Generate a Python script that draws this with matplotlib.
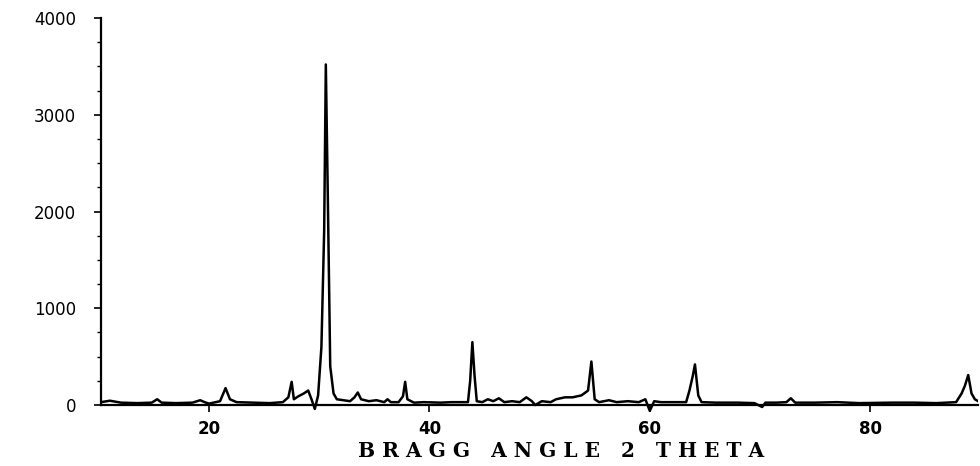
import matplotlib
matplotlib.use("Agg")
import matplotlib.pyplot as plt
from matplotlib.ticker import MultipleLocator

# XRD pattern (2-theta in degrees, counts)
two_theta = [
    10.2, 11.0, 12.0, 13.5, 14.8, 15.3, 15.7, 17.0, 18.5, 19.2, 19.6, 20.0,
    21.0, 21.5, 21.9, 22.5, 24.0, 25.5, 26.7, 27.2, 27.5, 27.7, 28.1, 28.6,
    29.0, 29.3, 29.6, 29.9, 30.2, 30.45, 30.6, 30.8, 31.0, 31.3, 31.6, 32.2,
    32.8, 33.2, 33.5, 33.8, 34.5, 35.2, 35.9, 36.2, 36.5, 37.2, 37.6, 37.8,
    38.0, 38.6, 39.5, 41.0, 42.0, 43.5, 43.7, 43.9, 44.1, 44.3, 44.8, 45.3,
    45.8, 46.3, 46.8, 47.5, 48.2, 48.8, 49.3, 49.6, 50.2, 51.0, 51.5, 52.3,
    53.0, 53.8, 54.4, 54.7, 55.0, 55.4, 56.3, 57.0, 58.0, 59.0, 59.6, 60.0,
    60.4, 61.0, 62.0, 63.3, 63.6, 63.9, 64.1, 64.4, 64.7, 66.0, 68.0, 69.5,
    70.2, 70.5, 71.5, 72.4, 72.8, 73.2, 75.0, 77.0, 79.0, 82.0, 84.0, 86.0,
    87.8, 88.3, 88.6, 88.9, 89.2, 89.5, 89.8,
]
counts = [
    30, 45, 25, 20, 25, 60, 25, 20, 25, 50, 30, 15,
    40, 175, 60, 30, 25, 20, 30, 80, 240, 60, 90, 120,
    150, 60, -40, 100, 600, 1800, 3520, 2000, 400, 120, 60, 50,
    40, 80, 130, 60, 40, 50, 30, 60, 30, 30, 90, 240,
    60, 25, 30, 25, 30, 30, 250, 650, 300, 40, 30, 60,
    40, 70, 30, 40, 30, 80, 40, 0, 40, 30, 60, 80,
    80, 100, 150, 450, 60, 30, 50, 30, 40, 30, 60, -60,
    40, 30, 30, 30, 150, 300, 420, 100, 30, 25, 25, 20,
    -20, 25, 25, 30, 70, 25, 25, 30, 20, 25, 25, 20,
    30, 120, 200, 310, 120, 60, 40,
]

x_ticks = [20, 40, 60, 80]
y_ticks = [0, 1000, 2000, 3000, 4000]

fig = plt.figure(figsize=(9.8, 4.66), dpi=100)
ax = fig.add_axes([0.1031, 0.110, 0.895, 0.8514])

ax.plot(two_theta, counts, color="black", linewidth=1.8)

ax.set_xlim(10.2, 89.8)
ax.set_ylim(-100, 4000)

for side in ("top", "right"):
    ax.spines[side].set_visible(False)
ax.spines["bottom"].set_position(("data", 0))
ax.spines["left"].set_bounds(0, 4000)
ax.spines["left"].set_linewidth(1.6)
ax.spines["bottom"].set_linewidth(1.6)

ax.set_xticks(x_ticks)
ax.set_yticks(y_ticks)
ax.yaxis.set_minor_locator(MultipleLocator(250))
ax.tick_params(axis="y", which="major", length=5, width=1.2, pad=13,
               labelsize=12)
ax.tick_params(axis="y", which="minor", length=3, width=1.0)
ax.tick_params(axis="x", which="major", length=5, width=1.2, pad=6,
               labelsize=12)
for lbl in ax.get_xticklabels():
    lbl.set_fontweight("bold")

ax.set_xlabel("B R A G G   A N G L E   2   T H E T A", family="DejaVu Serif",
              fontsize=14.5, fontweight="bold", va="center")
ax.xaxis.set_label_coords(0.5245, -0.0915)

fig.savefig("out.png", dpi=100, facecolor="white")
